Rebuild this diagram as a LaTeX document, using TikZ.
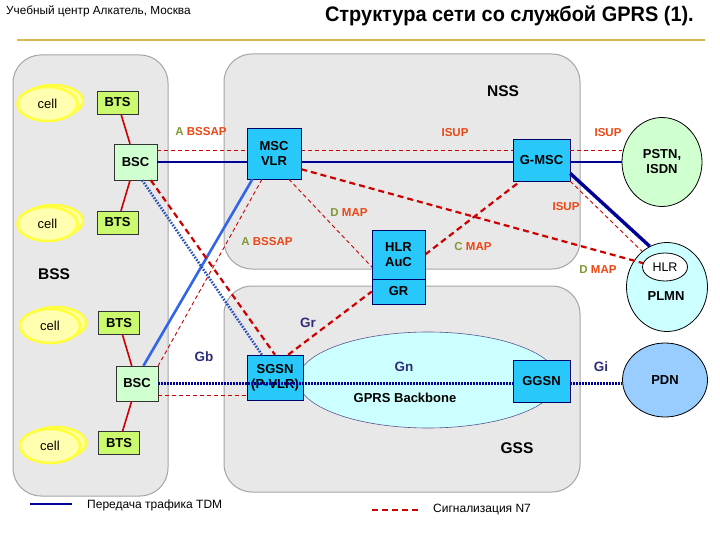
\documentclass[tikz,border=0pt]{standalone}
\usepackage{fontspec}
\setmainfont{Liberation Sans}
\newfontfamily\titlefont[FakeStretch=0.95]{Liberation Sans}
\usetikzlibrary{positioning,shapes.geometric}
\definecolor{regionfill}{RGB}{232,232,232}
\definecolor{regionline}{RGB}{165,165,165}
\definecolor{cyanbox}{RGB}{41,200,250}
\definecolor{btsgreen}{RGB}{204,250,110}
\definecolor{bscgreen}{RGB}{208,255,208}
\definecolor{celledge}{RGB}{255,255,60}
\definecolor{cellfill}{RGB}{255,255,175}
\definecolor{tdmblue}{RGB}{0,0,150}
\definecolor{lightblue}{RGB}{51,102,230}
\definecolor{sigred}{RGB}{204,0,0}
\definecolor{labelolive}{RGB}{128,153,51}
\definecolor{labelred}{RGB}{235,70,20}
\definecolor{ifblue}{RGB}{45,45,120}
\definecolor{pstngreen}{RGB}{208,255,208}
\definecolor{plmncyan}{RGB}{204,255,255}
\definecolor{pdnblue}{RGB}{153,204,255}
\definecolor{goldline}{RGB}{212,184,80}
\tikzset{
  region/.style={draw=regionline, fill=regionfill, line width=1pt, rounded corners=28pt},
  cellnode/.style={ellipse, draw=celledge, fill=cellfill, line width=2.5pt, minimum width=60pt, minimum height=34pt, font=\fontsize{13}{14}\selectfont},
  cellback/.style={draw=celledge, fill=cellfill, line width=2.5pt},
  btsnode/.style={draw=black!80, fill=btsgreen, minimum width=41pt, minimum height=23pt, inner sep=1pt, font=\bfseries\fontsize{13}{14}\selectfont},
  bscnode/.style={draw=black!80, fill=bscgreen, minimum width=43pt, minimum height=36pt, inner sep=1pt, font=\bfseries\fontsize{13}{14}\selectfont},
  corenode/.style={draw=tdmblue!70!black, fill=cyanbox, align=center, inner sep=1pt, font=\bfseries\fontsize{13}{15}\selectfont},
  cloudnode/.style={ellipse, draw=black, line width=0.8pt, align=center, inner sep=1pt, font=\bfseries\fontsize{13}{15}\selectfont},
  tdmline/.style={tdmblue, line width=2.8pt},
  tdmlight/.style={lightblue, line width=2.6pt},
  gprsdots/.style={tdmblue, line width=2.8pt, dash pattern=on 1.6pt off 1.4pt},
  gprslight/.style={lightblue!80!black, line width=2.6pt, dash pattern=on 1.6pt off 1.4pt},
  sigthick/.style={sigred, line width=2.2pt, dash pattern=on 6pt off 4pt},
  sigthin/.style={sigred, line width=0.9pt, dash pattern=on 4pt off 3pt},
  siglabel/.style={text=labelred, inner sep=1pt, font=\bfseries\fontsize{11.5}{13}\selectfont},
  iflabel/.style={text=ifblue, inner sep=1pt, font=\bfseries\fontsize{13.5}{15}\selectfont},
  areatext/.style={inner sep=1pt, font=\bfseries\fontsize{15.5}{17}\selectfont},
  boxtext/.style={inner sep=1pt, font=\bfseries\fontsize{13}{15}\selectfont},
  legendtext/.style={anchor=west, inner sep=1pt, font=\fontsize{12}{14}\selectfont}
}

\begin{document}
\begin{tikzpicture}[x=1pt, y=-1pt]
  \useasboundingbox (0,0) rectangle (720,540);
  % heading
  \node[anchor=west, inner sep=0pt, font=\fontsize{11.8}{13}\selectfont] (header) at (6,11) {Учебный центр Алкатель, Москва};
  \node[anchor=east, inner sep=0pt, font=\titlefont\bfseries\fontsize{21}{23}\selectfont] (title) at (694,16) {Структура сети со службой GPRS (1).};
  \draw[goldline, line width=1.5pt] (17,40) -- (705,40);

  % subsystems
  \draw[region] (13,55) rectangle (168,496);
  \draw[region] (224,54) rectangle (580,269);
  \draw[region] (224,286) rectangle (580,492);

  % cells
  \draw[cellback] (53,101) ellipse [x radius=30pt, y radius=16pt];
  \node[cellnode] (cellA) at (47.5,104) {cell};
  \draw[cellback] (53,221) ellipse [x radius=30pt, y radius=16pt];
  \node[cellnode] (cellB) at (47.5,224) {cell};
  \draw[cellback] (56,323) ellipse [x radius=30pt, y radius=16pt];
  \node[cellnode] (cellC) at (50,326) {cell};
  \draw[cellback] (56,443) ellipse [x radius=30pt, y radius=16pt];
  \node[cellnode] (cellD) at (50,446) {cell};

  % radio part
  \node[btsnode] (btsA) at (117.5,102.5) {BTS};
  \node[btsnode] (btsB) at (117.5,222.5) {BTS};
  \node[btsnode] (btsC) at (119,323) {BTS};
  \node[btsnode] (btsD) at (119,443) {BTS};
  \node[bscnode] (bscA) at (135.5,162) {BSC};
  \node[bscnode, minimum width=42pt, minimum height=35pt] (bscB) at (137,383.5) {BSC};

  % core
  \node[cloudnode, fill=plmncyan, draw=ifblue!80, line width=0.6pt, minimum width=260pt, minimum height=96pt] (backbone) at (428,380) {};
  \node[corenode, minimum width=54pt, minimum height=51pt] (msc) at (274,153.5) {MSC\\VLR};
  \node[corenode, minimum width=57pt, minimum height=42pt] (gmsc) at (541.5,160) {G-MSC};
  \node[corenode, minimum width=53pt, minimum height=49pt] (hlr) at (398.5,254.5) {HLR\\AuC};
  \node[corenode, minimum width=53pt, minimum height=25pt] (gr) at (398.5,291.5) {GR};
  \node[corenode, minimum width=56pt, minimum height=45pt] (sgsn) at (275,377.5) {SGSN\\(P-VLR)};
  \node[corenode, minimum width=57pt, minimum height=42pt] (ggsn) at (541.5,381) {GGSN};

  % outside networks
  \node[cloudnode, fill=pstngreen, minimum width=80pt, minimum height=89pt] (pstn) at (662,162) {PSTN,\\ISDN};
  \node[cloudnode, fill=plmncyan, minimum width=81pt, minimum height=89pt] (plmn) at (667,287) {};
  \node[cloudnode, fill=white, minimum width=45pt, minimum height=28pt, font=\fontsize{12.5}{14}\selectfont] (plmnhlr) at (665,267) {HLR};
  \node[boxtext] (lbPlmn) at (666,296) {PLMN};
  \node[cloudnode, fill=pdnblue, minimum width=85pt, minimum height=74pt] (pdn) at (665,380) {PDN};

  % BTS - BSC
  \draw[sigred, line width=1.6pt] (btsA) -- (bscA);
  \draw[sigred, line width=1.6pt] (btsB) -- (bscA);
  \draw[sigred, line width=1.6pt] (btsC) -- (bscB);
  \draw[sigred, line width=1.6pt] (btsD) -- (bscB);

  % circuit switched part
  \coordinate (sigA) at ([yshift=12pt]bscA.east);
  \draw[sigthin] (sigA) -- (sigA -| msc.west);
  \draw[sigthin] (msc.east |- sigA) -- (gmsc.west |- sigA);
  \draw[sigthin] (gmsc.east |- sigA) -- (sigA -| pstn.west);
  \draw[tdmline] (bscA.east) -- (bscA.east -| msc.west);
  \draw[tdmline] (msc.east |- bscA.east) -- (gmsc.west |- bscA.east);
  \draw[tdmline] (gmsc.east |- bscA.east) -- (pstn.west |- bscA.east);
  \draw[tdmlight] (bscB.70) -- (msc.230);
  \draw[sigthin] (msc.245) -- (bscB.north east);
  \draw[sigthin] (msc.300) -- (hlr.205);
  \draw[sigthick] (msc.330) -- (plmnhlr.170);
  \draw[sigthick] (hlr.east) -- (gmsc.225);
  \draw[tdmline, line width=3.4pt] (gmsc.335) -- (plmn.113);
  \draw[sigthin] (gmsc.south east) -- (plmn.125);

  % packet switched part
  \draw[sigthick] (bscA.310) -- (sgsn.north);
  \draw[gprslight] (bscA.290) -- (sgsn.120);
  \draw[sigthick] (sgsn.60) -- (gr.west);
  \coordinate (sigB) at ([yshift=-12pt]bscB.east);
  \draw[sigthin] (sigB) -- (sigB -| sgsn.west);
  \draw[gprsdots] (bscB.east) -- (bscB.east -| ggsn.west);
  \draw[gprsdots] (ggsn.east |- bscB.east) -- (pdn.west |- bscB.east);

  % interface labels
  \node[siglabel] (lbBssapA) at (201,132) {\textcolor{labelolive}{A} BSSAP};
  \node[siglabel] (lbIsupA) at (455,133) {ISUP};
  \node[siglabel] (lbIsupB) at (608,133) {ISUP};
  \node[siglabel] (lbIsupC) at (566,207) {ISUP};
  \node[siglabel] (lbDmapA) at (349,213) {\textcolor{labelolive}{D} MAP};
  \node[siglabel] (lbBssapB) at (267,242) {\textcolor{labelolive}{A} BSSAP};
  \node[siglabel] (lbCmap) at (473,247) {\textcolor{labelolive}{C} MAP};
  \node[siglabel] (lbDmapB) at (598,270) {\textcolor{labelolive}{D} MAP};
  \node[iflabel] (lbGb) at (204,357) {Gb};
  \node[iflabel] (lbGr) at (308,323) {Gr};
  \node[iflabel] (lbGn) at (404,367) {Gn};
  \node[iflabel] (lbGi) at (601,367) {Gi};
  \node[boxtext] (lbBackbone) at (405,398) {GPRS Backbone};
  \node[areatext] (lbNss) at (503,91) {NSS};
  \node[areatext] (lbBss) at (54,274) {BSS};
  \node[areatext] (lbGss) at (517,448) {GSS};

  % legend
  \coordinate (legTdmA) at (30,504);
  \coordinate (legTdmB) at (72,504);
  \draw[tdmline] (legTdmA) -- (legTdmB);
  \node[legendtext] (legTdm) at (86,505) {Передача трафика TDM};
  \coordinate (legSigA) at (372,510);
  \coordinate (legSigB) at (421,510);
  \draw[sigred, line width=1.8pt, dash pattern=on 6pt off 4pt] (legSigA) -- (legSigB);
  \node[legendtext] (legSig) at (432,510) {Сигнализация N7};
\end{tikzpicture}
\end{document}
